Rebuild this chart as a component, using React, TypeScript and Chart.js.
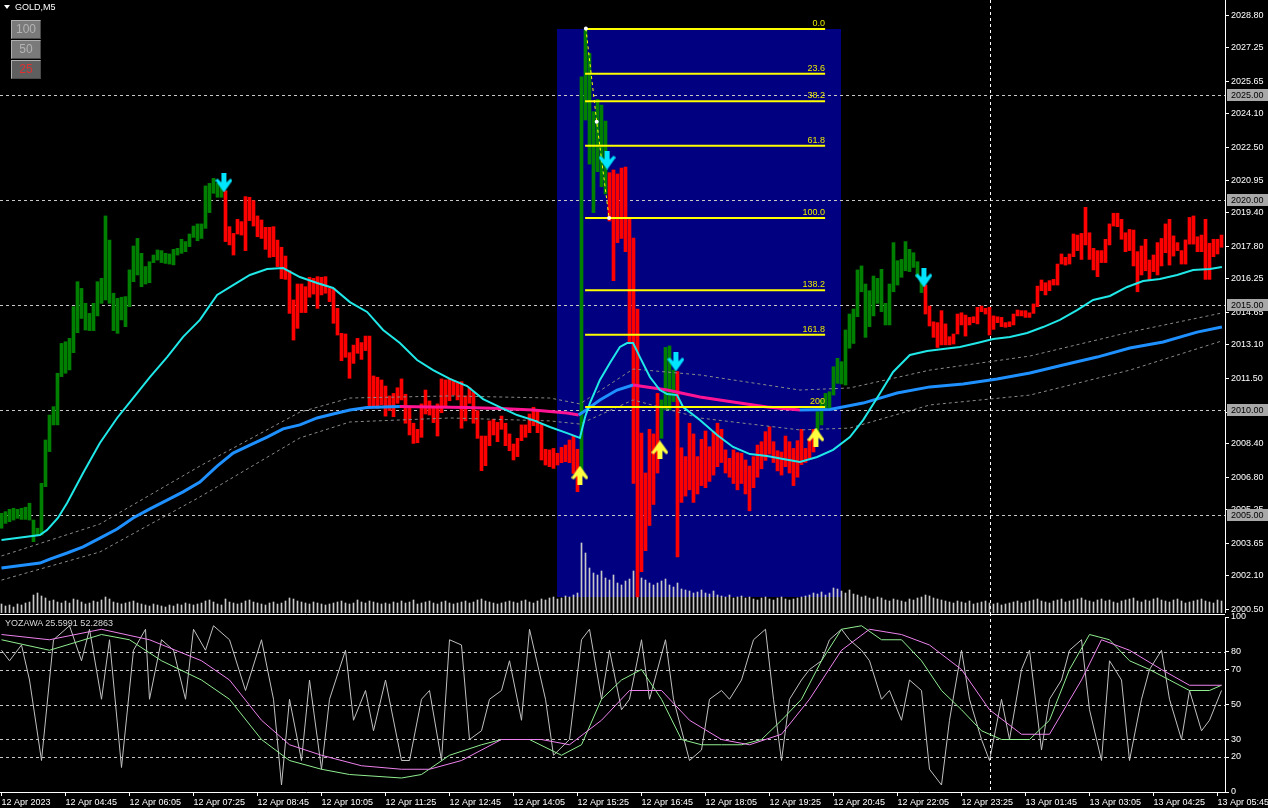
import React, { useEffect, useRef } from 'react';
import { Chart, registerables } from 'chart.js';

Chart.register(...registerables);

// ---------- DATA ----------
const TIME_LABELS = ['12 Apr 2023', '12 Apr 04:45', '12 Apr 06:05', '12 Apr 07:25', '12 Apr 08:45', '12 Apr 10:05', '12 Apr 11:25', '12 Apr 12:45', '12 Apr 14:05', '12 Apr 15:25', '12 Apr 16:45', '12 Apr 18:05', '12 Apr 19:25', '12 Apr 20:45', '12 Apr 22:05', '12 Apr 23:25', '13 Apr 01:45', '13 Apr 03:05', '13 Apr 04:25', '13 Apr 05:45'];
const TIME_TICK_BARS = [0, 16, 32, 48, 64, 80, 96, 112, 128, 144, 160, 176, 192, 208, 224, 240, 256, 272, 288, 304];

const BAR_HIGH = [
  2005.08, 2005.16, 2005.27, 2005.32, 2005.27, 2005.32, 2005.37, 2005.56, 2004.76, 2004.37,
  2006.51, 2008.57, 2009.76, 2010.16, 2011.75, 2013.17, 2013.25, 2013.41, 2014.92, 2016.11,
  2015.79, 2015.08, 2014.60, 2015.08, 2016.11, 2016.27, 2019.24, 2018.09, 2015.56, 2015.32,
  2015.37, 2015.40, 2016.67, 2017.81, 2018.17, 2017.46, 2016.83, 2017.06, 2017.38, 2017.62,
  2017.59, 2017.46, 2017.43, 2017.65, 2017.70, 2018.13, 2018.02, 2018.38, 2018.76, 2018.86,
  2018.86, 2020.67, 2020.79, 2021.03, 2020.79, 2020.63, 2020.44, 2018.73, 2018.41, 2019.08,
  2018.97, 2020.16, 2020.13, 2019.97, 2019.24, 2019.05, 2018.70, 2018.70, 2018.73, 2018.09,
  2017.75, 2017.33, 2016.63, 2015.24, 2016.00, 2016.00, 2015.87, 2016.32, 2016.27, 2016.35,
  2016.32, 2016.35, 2015.79, 2015.79, 2014.84, 2013.65, 2013.62, 2012.73, 2013.09, 2013.41,
  2013.21, 2013.52, 2013.52, 2011.62, 2011.56, 2011.43, 2011.14, 2010.67, 2010.79, 2011.06,
  2011.48, 2010.75, 2010.16, 2009.37, 2009.08, 2010.29, 2010.95, 2010.43, 2010.16, 2010.29,
  2011.48, 2011.43, 2011.51, 2011.40, 2011.30, 2011.35, 2010.67, 2011.06, 2010.87, 2009.97,
  2008.76, 2008.76, 2009.48, 2009.56, 2009.41, 2009.71, 2009.37, 2008.86, 2008.38, 2008.65,
  2009.29, 2009.29, 2009.81, 2010.13, 2009.92, 2009.33, 2008.13, 2008.10, 2008.17, 2007.94,
  2008.22, 2008.33, 2008.57, 2008.76, 2008.13, 2025.87, 2028.10, 2026.98, 2024.21, 2024.79,
  2024.52, 2023.76, 2021.30, 2021.43, 2021.24, 2021.52, 2021.57, 2019.08, 2018.19, 2014.80,
  2008.90, 2007.00, 2009.08, 2008.86, 2010.79, 2010.48, 2012.98, 2013.05, 2011.90, 2011.83,
  2008.20, 2007.78, 2009.37, 2008.86, 2007.78, 2008.60, 2009.00, 2008.25, 2008.97, 2009.37,
  2009.08, 2008.10, 2007.70, 2008.10, 2007.97, 2007.94, 2007.62, 2007.33, 2007.78, 2008.33,
  2008.49, 2008.97, 2009.20, 2008.49, 2008.06, 2008.00, 2008.76, 2008.49, 2008.17, 2008.54,
  2009.08, 2008.17, 2008.60, 2009.08, 2009.92, 2010.48, 2010.79, 2010.87, 2012.06, 2012.46,
  2012.30, 2013.81, 2014.57, 2014.81, 2016.67, 2016.86, 2016.00, 2015.68, 2016.38, 2016.27,
  2016.70, 2015.08, 2016.00, 2017.97, 2017.11, 2017.17, 2018.02, 2017.65, 2017.49, 2017.06,
  2016.35, 2015.95, 2014.95, 2014.20, 2014.16, 2014.73, 2014.10, 2013.49, 2013.62, 2014.57,
  2014.63, 2014.52, 2014.41, 2014.44, 2014.89, 2014.95, 2014.84, 2014.89, 2014.48, 2014.44,
  2014.41, 2014.16, 2014.20, 2014.57, 2014.76, 2014.73, 2014.73, 2014.63, 2015.05, 2015.90,
  2016.19, 2016.06, 2016.16, 2016.22, 2016.95, 2017.43, 2017.27, 2017.43, 2018.38, 2018.33,
  2018.41, 2019.65, 2018.44, 2017.70, 2017.59, 2017.59, 2018.13, 2018.86, 2019.37, 2019.37,
  2019.08, 2018.44, 2018.60, 2018.57, 2017.54, 2017.81, 2018.13, 2017.14, 2017.38, 2017.97,
  2018.17, 2018.86, 2019.08, 2018.29, 2017.97, 2017.59, 2018.10, 2019.17, 2019.24, 2018.25,
  2018.33, 2019.08, 2017.94, 2018.13, 2018.13, 2018.33
];
const BAR_LOW = [
  2004.37, 2004.60, 2004.68, 2004.76, 2004.84, 2004.79, 2004.79, 2004.76, 2003.73, 2004.05,
  2004.05, 2006.35, 2008.02, 2009.29, 2009.29, 2011.59, 2011.75, 2011.91, 2012.73, 2013.68,
  2014.36, 2013.81, 2013.78, 2013.78, 2014.48, 2015.08, 2015.24, 2015.08, 2013.78, 2013.65,
  2014.29, 2013.97, 2014.92, 2016.11, 2016.43, 2015.87, 2016.00, 2016.06, 2017.02, 2017.14,
  2017.02, 2016.98, 2016.95, 2016.91, 2017.38, 2017.46, 2017.54, 2017.78, 2018.22, 2018.06,
  2018.17, 2018.65, 2019.40, 2020.32, 2020.13, 2020.13, 2018.02, 2017.86, 2017.38, 2018.38,
  2018.33, 2017.59, 2019.02, 2018.76, 2018.25, 2018.17, 2017.65, 2017.27, 2017.30, 2016.83,
  2016.25, 2016.22, 2014.60, 2013.33, 2013.89, 2014.64, 2014.64, 2015.37, 2015.52, 2014.84,
  2015.48, 2015.56, 2015.16, 2014.13, 2013.57, 2012.35, 2012.51, 2011.51, 2012.22, 2012.70,
  2012.41, 2012.83, 2010.16, 2010.16, 2010.08, 2010.24, 2009.71, 2009.97, 2009.68, 2010.32,
  2010.48, 2009.37, 2008.81, 2008.41, 2008.44, 2008.70, 2009.81, 2009.76, 2009.40, 2008.76,
  2009.87, 2010.16, 2010.44, 2010.71, 2010.48, 2009.13, 2009.48, 2010.32, 2009.37, 2008.65,
  2007.11, 2007.35, 2008.30, 2008.81, 2008.49, 2009.08, 2008.30, 2008.06, 2007.62, 2007.78,
  2008.54, 2008.70, 2008.92, 2009.25, 2008.92, 2007.62, 2007.38, 2007.30, 2007.22, 2007.38,
  2007.49, 2007.54, 2007.49, 2006.98, 2006.11, 2006.90, 2023.81, 2021.71, 2019.40, 2021.35,
  2020.63, 2020.29, 2019.00, 2016.16, 2017.97, 2018.17, 2017.54, 2013.25, 2006.50, 2001.10,
  2002.30, 2003.30, 2004.50, 2005.50, 2007.00, 2008.65, 2010.00, 2010.00, 2010.40, 2003.00,
  2005.60, 2005.90, 2006.20, 2005.60, 2006.00, 2006.40, 2006.30, 2006.60, 2006.90, 2007.30,
  2007.50, 2007.00, 2006.80, 2006.50, 2006.20, 2006.50, 2006.00, 2005.20, 2006.30, 2006.80,
  2007.20, 2007.60, 2007.90, 2007.50, 2007.10, 2006.90, 2007.30, 2007.00, 2006.40, 2006.80,
  2007.40, 2007.50, 2007.70, 2008.00, 2008.73, 2009.29, 2010.00, 2010.08, 2010.71, 2011.27,
  2011.24, 2011.19, 2012.94, 2013.17, 2014.44, 2015.63, 2013.46, 2013.97, 2014.48, 2015.08,
  2014.68, 2014.05, 2014.05, 2015.63, 2015.95, 2016.32, 2016.63, 2016.59, 2016.79, 2016.32,
  2015.59, 2014.57, 2014.00, 2013.46, 2012.98, 2013.10, 2013.10, 2013.10, 2013.14, 2013.62,
  2014.05, 2013.52, 2014.05, 2014.16, 2014.10, 2014.68, 2014.57, 2013.57, 2013.84, 2014.16,
  2013.97, 2013.94, 2013.97, 2014.05, 2014.48, 2014.48, 2014.41, 2014.41, 2014.60, 2014.92,
  2015.68, 2015.48, 2015.68, 2015.95, 2015.95, 2016.95, 2016.90, 2016.95, 2017.30, 2017.59,
  2017.17, 2017.86, 2017.17, 2016.67, 2016.35, 2017.02, 2017.02, 2017.86, 2018.76, 2018.73,
  2018.13, 2017.54, 2017.59, 2016.86, 2015.63, 2016.43, 2016.63, 2016.16, 2016.59, 2016.43,
  2016.86, 2017.49, 2016.90, 2017.33, 2017.59, 2016.95, 2016.95, 2017.90, 2017.90, 2017.54,
  2017.54, 2016.22, 2016.22, 2017.30, 2017.43, 2017.75
];
// [firstBar, lastBar, trend]
const TREND_SEGMENTS = [
  [0, 55, 'up'], [56, 144, 'down'], [145, 151, 'up'], [152, 164, 'down'],
  [165, 168, 'up'], [169, 203, 'down'], [204, 230, 'up'], [231, 305, 'down']
];
const VOLUMES = [
  90, 70, 80, 60, 90, 80, 100, 110, 180, 200, 170, 150, 120, 130, 110, 100,
  120, 100, 140, 130, 110, 90, 100, 120, 110, 130, 160, 140, 110, 100, 90, 100,
  110, 120, 100, 90, 80, 70, 90, 80, 70, 60, 80, 70, 90, 80, 100, 90,
  80, 90, 100, 120, 130, 110, 90, 80, 140, 110, 100, 90, 100, 120, 130, 110,
  100, 90, 80, 100, 110, 90, 100, 120, 150, 140, 120, 110, 100, 90, 110, 100,
  90, 80, 90, 100, 110, 120, 100, 90, 100, 130, 110, 100, 120, 110, 100, 90,
  100, 90, 110, 100, 120, 100, 110, 130, 90, 100, 110, 120, 100, 90, 110, 120,
  100, 90, 100, 110, 120, 100, 110, 130, 140, 120, 110, 100, 90, 100, 110, 120,
  110, 100, 120, 130, 110, 100, 120, 140, 130, 150, 160, 140, 150, 170, 160, 180,
  200, 700, 600, 450, 400, 380, 420, 350, 330, 380, 300, 280, 320, 340, 420, 380,
  350, 330, 300, 280, 300, 320, 340, 280, 260, 300, 240, 230, 220, 200, 210, 230,
  200, 190, 220, 180, 170, 160, 180, 150, 160, 170, 150, 160, 140, 130, 150, 160,
  140, 130, 150, 160, 140, 130, 140, 150, 160, 170, 180, 200, 190, 210, 180, 200,
  250, 240, 220, 200, 230, 190, 180, 160, 170, 150, 140, 160, 150, 130, 120, 140,
  130, 120, 110, 140, 130, 150, 160, 180, 170, 150, 140, 130, 120, 110, 100, 120,
  110, 100, 120, 90, 100, 110, 120, 100, 90, 100, 80, 90, 100, 110, 120, 100,
  110, 120, 130, 140, 120, 110, 100, 120, 130, 140, 110, 120, 130, 140, 150, 130,
  120, 110, 130, 140, 120, 130, 110, 100, 120, 130, 140, 150, 120, 110, 130, 120,
  140, 150, 130, 120, 110, 130, 140, 120, 100, 110, 120, 130, 140, 120, 110, 100,
  130, 120
];

const CYAN_MA_BARS = [0, 9.6, 11.4, 14.1, 16.4, 20.4, 24.6, 28.9, 32.9, 37.1, 41.4, 45.4, 49.6, 53.9, 57.9, 62.1, 66.4, 70.4, 74.6, 78.9, 82.9, 87.1, 91.4, 95.4, 99.6, 103.9, 107.9, 112.1, 116.4, 120.4, 124.6, 128.9, 132.9, 137.1, 141.4, 144.6, 145.9, 147.1, 149.6, 152.1, 154.6, 156.4, 157.9, 159.6, 162.1, 164.6, 166.4, 168.9, 170.4, 174.6, 178.9, 182.9, 187.1, 191.4, 195.4, 199.6, 203.9, 207.9, 212.1, 215.4, 218.9, 222.9, 227.1, 231.4, 235.4, 239.6, 243.9, 247.9, 252.1, 256.4, 260.4, 264.6, 268.9, 272.9, 277.1, 281.4, 285.4, 289.6, 293.9, 297.9, 302.1, 305.1];
const CYAN_MA = [2003.81, 2004.05, 2004.29, 2004.86, 2005.57, 2007.0, 2008.43, 2009.62, 2010.57, 2011.57, 2012.52, 2013.48, 2014.29, 2015.48, 2015.95, 2016.43, 2016.71, 2016.76, 2016.33, 2016.05, 2015.81, 2015.14, 2014.67, 2013.81, 2013.19, 2012.38, 2011.90, 2011.48, 2011.14, 2010.52, 2010.14, 2009.76, 2009.52, 2009.19, 2008.90, 2008.67, 2009.67, 2010.33, 2011.43, 2012.24, 2013.0, 2013.19, 2013.19, 2012.52, 2011.57, 2010.95, 2010.76, 2010.71, 2010.14, 2009.52, 2008.81, 2008.24, 2007.90, 2007.81, 2007.67, 2007.52, 2007.76, 2008.10, 2008.71, 2009.52, 2010.57, 2011.81, 2012.62, 2012.81, 2012.90, 2013.0, 2013.19, 2013.38, 2013.48, 2013.67, 2013.95, 2014.29, 2014.76, 2015.24, 2015.43, 2015.86, 2016.14, 2016.24, 2016.43, 2016.67, 2016.71, 2016.81];

const SLOW_MA_BARS = [0, 9.6, 12.1, 16.4, 20.4, 24.6, 28.9, 32.9, 37.1, 41.4, 45.4, 49.6, 53.9, 57.9, 62.1, 66.4, 70.4, 74.6, 78.9, 82.9, 87.1, 91.4, 99.6, 107.9, 116.4, 124.6, 132.9, 141.4, 144.3, 145.4, 149.6, 153.9, 157.9, 159.6, 166.4, 174.6, 182.9, 191.4, 199.6, 207.1, 215.4, 223.9, 232.1, 240.4, 248.9, 257.1, 265.4, 273.9, 282.1, 290.4, 298.9, 305.1];
const SLOW_MA = [2002.48, 2002.71, 2002.90, 2003.19, 2003.48, 2003.90, 2004.33, 2004.86, 2005.29, 2005.71, 2006.10, 2006.57, 2007.33, 2007.95, 2008.33, 2008.71, 2009.10, 2009.29, 2009.62, 2009.81, 2010.0, 2010.12, 2010.17, 2010.14, 2010.12, 2010.07, 2010.0, 2009.86, 2009.76, 2009.90, 2010.48, 2010.95, 2011.19, 2011.14, 2010.95, 2010.62, 2010.38, 2010.14, 2010.0, 2010.02, 2010.33, 2010.81, 2011.10, 2011.24, 2011.48, 2011.76, 2012.14, 2012.52, 2012.95, 2013.24, 2013.71, 2013.95];

const ENV_BARS = [0, 24.6, 49.6, 74.6, 87.1, 112.1, 137.1, 144.6, 157.9, 174.6, 199.6, 212.1, 232.1, 257.1, 282.1, 305.1];
const ENV_UPPER = [2003.05, 2004.57, 2007.33, 2009.90, 2010.57, 2010.67, 2010.57, 2010.29, 2011.95, 2011.67, 2010.95, 2011.05, 2011.90, 2012.57, 2013.71, 2014.62];
const ENV_LOWER = [2001.90, 2003.24, 2005.86, 2008.67, 2009.43, 2009.62, 2009.48, 2009.33, 2010.48, 2009.62, 2009.05, 2009.14, 2010.24, 2010.71, 2011.90, 2013.29];

const FIB_LEVELS = [0, 23.6, 38.2, 61.8, 100, 138.2, 161.8, 200];
const FIB_LABELS = ['0.0', '23.6', '38.2', '61.8', '100.0', '138.2', '161.8', '200'];
const FIB_PRICE_0 = 2028.14;
const FIB_PRICE_100 = 2019.14;
const FIB_FROM_BAR = 145.9;
const FIB_TO_BAR = 205.9;
const FIB_ZONE_FROM_BAR = 138.9;
const FIB_ZONE_TO_BAR = 209.9;
const FIB_ZONE_BOTTOM = 2001.10;
const ZIGZAG_BARS = [146.1, 148.8, 151.9];
const ZIGZAG = [2028.17, 2023.73, 2019.14];

const DOWN_ARROW_BARS = [55.6, 151.4, 168.6, 230.6];
const DOWN_ARROW_PRICES = [2020.81, 2021.90, 2012.29, 2016.29];
const UP_ARROW_BARS = [144.6, 164.6, 203.6];
const UP_ARROW_PRICES = [2006.90, 2008.10, 2008.71];

const PRICE_TICKS = [2028.80, 2027.25, 2025.65, 2024.10, 2022.50, 2020.95, 2019.40, 2017.80, 2016.25, 2014.65, 2013.10, 2011.50, 2009.90, 2008.40, 2006.80, 2005.25, 2003.65, 2002.10, 2000.50];
const PRICE_LEVELS = [2025, 2020, 2015, 2010, 2005];
const PRICE_MIN = 2000.333;
const PRICE_MAX = 2029.524;
const BAR_MIN = -0.375;
const BAR_MAX = 305.875;
const SEPARATOR_BAR = 247;

const OSC_TICKS = [100, 80, 70, 50, 30, 20, 0];
const OSC_LEVELS = [80, 70, 50, 30, 20];
const OSC_FAST_BARS = [0, 2, 5, 7, 10, 13, 17, 20, 22, 25, 27, 30, 33, 36, 37, 40, 43, 46, 48, 51, 53, 57, 61, 65, 68, 70, 72, 75, 77, 80, 82, 86, 88, 91, 93, 96, 100, 102, 105, 107, 110, 112, 115, 117, 120, 122, 125, 127, 130, 132, 136, 138, 142, 145, 147, 150, 152, 155, 157, 160, 162, 166, 168, 172, 175, 177, 180, 182, 185, 188, 191, 193, 195, 197, 200, 202, 205, 207, 210, 212, 215, 217, 220, 222, 225, 227, 230, 232, 235, 237, 240, 242, 245, 247, 250, 252, 255, 257, 260, 262, 265, 267, 270, 272, 275, 277, 280, 282, 285, 287, 290, 292, 295, 297, 300, 302, 305];
const OSC_FAST = [81, 75, 84, 64, 18, 87, 95, 75, 93, 53, 87, 14, 81, 93, 53, 87, 81, 53, 93, 81, 95, 87, 58, 87, 53, 4, 53, 18, 64, 13, 53, 81, 41, 58, 35, 64, 18, 18, 53, 58, 18, 87, 84, 30, 35, 53, 58, 75, 41, 93, 53, 21, 30, 87, 93, 53, 81, 47, 53, 87, 53, 87, 53, 18, 24, 53, 58, 53, 64, 87, 93, 53, 18, 53, 64, 70, 75, 87, 93, 87, 81, 75, 53, 58, 41, 64, 58, 13, 4, 41, 81, 53, 30, 18, 53, 30, 70, 81, 24, 53, 64, 81, 87, 47, 18, 75, 64, 18, 53, 70, 81, 53, 30, 58, 35, 41, 58];
const OSC_SIGNAL_BARS = [0, 12, 25, 32, 40, 50, 57, 65, 72, 80, 87, 100, 105, 112, 120, 125, 132, 140, 145, 150, 155, 160, 165, 170, 175, 180, 185, 190, 195, 200, 205, 210, 215, 220, 225, 230, 235, 240, 245, 250, 257, 262, 267, 272, 277, 282, 287, 292, 297, 302, 305];
const OSC_SIGNAL = [87, 81, 90, 87, 75, 64, 53, 30, 18, 13, 10, 8, 10, 21, 27, 30, 30, 21, 27, 53, 64, 70, 53, 30, 27, 27, 27, 30, 41, 53, 75, 93, 95, 87, 87, 75, 58, 47, 35, 30, 30, 41, 70, 90, 87, 75, 70, 64, 58, 58, 61];
const OSC_SLOW_BARS = [0, 12, 25, 37, 50, 57, 65, 72, 80, 90, 100, 107, 115, 125, 135, 142, 150, 157, 165, 172, 180, 187, 195, 202, 210, 217, 225, 232, 240, 247, 255, 262, 270, 275, 282, 290, 297, 305];
const OSC_SLOW = [90, 87, 93, 87, 75, 64, 41, 27, 21, 15, 13, 13, 18, 30, 30, 27, 41, 58, 58, 41, 30, 27, 33, 53, 81, 93, 90, 84, 70, 47, 33, 33, 64, 87, 81, 70, 61, 61];

// ---------- STYLE ----------
const FONT = '"Liberation Sans", Arial, sans-serif';
const GREEN = '#008000';
const RED = '#ff0000';
const CYAN = '#20e8e8';
const BLUE = '#1e90ff';
const PINK = '#ff1493';
const YELLOW = '#ffff00';

const trendColor = (i: number) => {
  for (const s of TREND_SEGMENTS) if (i >= (s[0] as number) && i <= (s[1] as number)) return s[2] === 'up' ? GREEN : RED;
  return RED;
};
const pts = (xs: number[], ys: number[]) => xs.map((x, k) => ({ x, y: ys[k] }));

function arrowImage(color: string, up: boolean) {
  const c = document.createElement('canvas');
  c.width = 17; c.height = 19;
  const g = c.getContext('2d')!;
  const shape = [[6, 0], [11, 0], [11, 9], [15, 5], [17, 7], [8.5, 19], [0, 7], [2, 5], [6, 9]];
  g.fillStyle = color;
  g.beginPath();
  shape.forEach(([px, py], k) => {
    const yy = up ? 19 - py : py;
    if (k) g.lineTo(px, yy); else g.moveTo(px, yy);
  });
  g.closePath();
  g.fill();
  return c;
}

const hline = (ctx: CanvasRenderingContext2D, x0: number, x1: number, y: number) => {
  const py = Math.round(y) + 0.5;
  ctx.beginPath(); ctx.moveTo(x0, py); ctx.lineTo(x1, py); ctx.stroke();
};

const upperDeco = {
  id: 'upperDeco',
  beforeDatasetsDraw(chart: any) {
    const { ctx, chartArea: a, scales } = chart;
    const x = scales.x, y = scales.y;
    ctx.save();
    ctx.fillStyle = '#000080';
    const l = x.getPixelForValue(FIB_ZONE_FROM_BAR), r = x.getPixelForValue(FIB_ZONE_TO_BAR);
    const t = y.getPixelForValue(FIB_PRICE_0), b = y.getPixelForValue(FIB_ZONE_BOTTOM);
    ctx.fillRect(Math.round(l), Math.round(t), Math.round(r - l), Math.round(b - t));
    ctx.strokeStyle = '#c8c8c8';
    ctx.lineWidth = 1;
    ctx.setLineDash([3, 3]);
    PRICE_LEVELS.forEach(v => hline(ctx, a.left, a.right, y.getPixelForValue(v)));
    ctx.strokeStyle = '#ffffff';
    const sx = Math.round(x.getPixelForValue(SEPARATOR_BAR)) + 0.5;
    ctx.beginPath(); ctx.moveTo(sx, a.top); ctx.lineTo(sx, a.bottom); ctx.stroke();
    ctx.restore();
  },
  afterDraw(chart: any) {
    const { ctx, chartArea: a, scales } = chart;
    const x = scales.x, y = scales.y;
    ctx.save();
    ctx.font = `9px ${FONT}`;
    ctx.fillStyle = '#e8e800';
    ctx.textAlign = 'right';
    ctx.textBaseline = 'alphabetic';
    const rx = x.getPixelForValue(FIB_TO_BAR);
    FIB_LEVELS.forEach((lv, k) => {
      const p = FIB_PRICE_0 - (FIB_PRICE_0 - FIB_PRICE_100) * lv / 100;
      ctx.fillText(FIB_LABELS[k], rx, y.getPixelForValue(p) - 3);
    });
    ctx.textAlign = 'left';
    ctx.textBaseline = 'middle';
    PRICE_LEVELS.forEach(v => {
      const py = Math.round(y.getPixelForValue(v));
      ctx.fillStyle = '#a8a8a8';
      ctx.fillRect(a.right + 2, py - 6, 41, 12);
      ctx.fillStyle = '#000000';
      ctx.fillText(v.toFixed(2), a.right + 6, py + 0.5);
    });
    ctx.restore();
  }
};

const lowerDeco = {
  id: 'lowerDeco',
  beforeDatasetsDraw(chart: any) {
    const { ctx, chartArea: a, scales } = chart;
    const x = scales.x, y = scales.y;
    ctx.save();
    ctx.strokeStyle = '#c8c8c8';
    ctx.lineWidth = 1;
    ctx.setLineDash([3, 3]);
    OSC_LEVELS.forEach(v => hline(ctx, a.left, a.right, y.getPixelForValue(v)));
    ctx.strokeStyle = '#ffffff';
    const sx = Math.round(x.getPixelForValue(SEPARATOR_BAR)) + 0.5;
    ctx.beginPath(); ctx.moveTo(sx, 0); ctx.lineTo(sx, a.bottom); ctx.stroke();
    ctx.setLineDash([]);
    hline(ctx, 0, a.right, 1);
    ctx.restore();
  }
};

export default function App() {
  const upperRef = useRef<HTMLCanvasElement>(null);
  const lowerRef = useRef<HTMLCanvasElement>(null);

  useEffect(() => {
    document.body.style.margin = '0';
    document.body.style.background = '#000';
    const downImg = arrowImage('#00e5ff', false);
    const upImg = arrowImage('#ffff40', true);

    const fibDatasets = FIB_LEVELS.map(lv => {
      const p = FIB_PRICE_0 - (FIB_PRICE_0 - FIB_PRICE_100) * lv / 100;
      return {
        type: 'line', data: [{ x: FIB_FROM_BAR, y: p }, { x: FIB_TO_BAR, y: p }],
        borderColor: YELLOW, borderWidth: 2, pointRadius: 0, order: 3, yAxisID: 'y'
      };
    });

    const upper = new Chart(upperRef.current!, {
      type: 'bar',
      data: {
        datasets: [
          {
            type: 'bar', yAxisID: 'yv', data: VOLUMES.map((v, i) => ({ x: i, y: v })),
            backgroundColor: '#c8c8c8', barThickness: 1, grouped: false, order: 20
          },
          {
            type: 'bar', yAxisID: 'y', data: BAR_HIGH.map((h, i) => ({ x: i, y: [BAR_LOW[i], h] })),
            backgroundColor: BAR_HIGH.map((_, i) => trendColor(i)), barThickness: 3, grouped: false, order: 10
          },
          {
            type: 'line', yAxisID: 'y', data: pts(ENV_BARS, ENV_UPPER), borderColor: '#8a8a8a', borderWidth: 1,
            borderDash: [3, 3], pointRadius: 0, order: 9
          },
          {
            type: 'line', yAxisID: 'y', data: pts(ENV_BARS, ENV_LOWER), borderColor: '#8a8a8a', borderWidth: 1,
            borderDash: [3, 3], pointRadius: 0, order: 9
          },
          {
            type: 'line', yAxisID: 'y', data: pts(SLOW_MA_BARS, SLOW_MA), borderColor: BLUE, borderWidth: 3,
            pointRadius: 0, order: 6,
            segment: { borderColor: (c: any) => (c.p1.parsed.y >= c.p0.parsed.y ? BLUE : PINK) }
          },
          {
            type: 'line', yAxisID: 'y', data: pts(CYAN_MA_BARS, CYAN_MA), borderColor: CYAN, borderWidth: 2,
            pointRadius: 0, order: 5
          },
          ...fibDatasets,
          {
            type: 'line', yAxisID: 'y', data: pts(ZIGZAG_BARS, ZIGZAG), borderColor: YELLOW, borderWidth: 1,
            borderDash: [3, 3], pointRadius: 2, pointBackgroundColor: '#ffffff', pointBorderWidth: 0, order: 2
          },
          {
            type: 'line', yAxisID: 'y', data: pts(DOWN_ARROW_BARS, DOWN_ARROW_PRICES), showLine: false,
            pointStyle: downImg, pointRadius: 8, order: 1
          },
          {
            type: 'line', yAxisID: 'y', data: pts(UP_ARROW_BARS, UP_ARROW_PRICES), showLine: false,
            pointStyle: upImg, pointRadius: 8, order: 1
          }
        ]
      } as any,
      options: {
        responsive: false, animation: false, devicePixelRatio: 1, events: [],
        layout: { padding: 0, autoPadding: false },
        plugins: { legend: { display: false }, tooltip: { enabled: false } },
        scales: {
          x: { type: 'linear', min: BAR_MIN, max: BAR_MAX, offset: false, display: false },
          yv: { type: 'linear', min: 0, max: 6130, display: false },
          y: {
            type: 'linear', position: 'right', min: PRICE_MIN, max: PRICE_MAX,
            afterBuildTicks: (s: any) => { s.ticks = PRICE_TICKS.map(v => ({ value: v })); },
            afterFit: (s: any) => { s.width = 43; s.paddingTop = 0; s.paddingBottom = 0; },
            ticks: {
              color: '#ffffff', font: { family: FONT, size: 9 }, padding: 2,
              callback: (v: any) => Number(v).toFixed(2)
            },
            grid: { drawOnChartArea: false, drawTicks: true, tickLength: 4, color: '#ffffff' },
            border: { display: true, color: '#ffffff', width: 1 }
          }
        }
      } as any,
      plugins: [upperDeco]
    });

    const lower = new Chart(lowerRef.current!, {
      type: 'line',
      data: {
        datasets: [
          { data: pts(OSC_FAST_BARS, OSC_FAST), borderColor: '#c0c0c0', borderWidth: 1, pointRadius: 0, order: 3 },
          { data: pts(OSC_SIGNAL_BARS, OSC_SIGNAL), borderColor: '#90ee90', borderWidth: 1, pointRadius: 0, order: 2 },
          { data: pts(OSC_SLOW_BARS, OSC_SLOW), borderColor: '#ee82ee', borderWidth: 1, pointRadius: 0, order: 1 }
        ]
      } as any,
      options: {
        responsive: false, animation: false, devicePixelRatio: 1, events: [],
        layout: { padding: { top: 4, left: 0, right: 0, bottom: 0 }, autoPadding: false },
        plugins: { legend: { display: false }, tooltip: { enabled: false } },
        scales: {
          x: {
            type: 'linear', min: BAR_MIN, max: BAR_MAX, offset: false,
            afterBuildTicks: (s: any) => { s.ticks = TIME_TICK_BARS.map(v => ({ value: v })); },
            afterFit: (s: any) => { s.height = 16; s.paddingLeft = 0; s.paddingRight = 0; },
            ticks: {
              color: '#ffffff', font: { family: FONT, size: 9 }, padding: 1, autoSkip: false,
              maxRotation: 0, minRotation: 0, align: 'start',
              callback: (_v: any, idx: number) => TIME_LABELS[idx]
            },
            grid: { drawOnChartArea: false, drawTicks: true, tickLength: 4, color: '#ffffff' },
            border: { display: true, color: '#ffffff', width: 1 }
          },
          y: {
            type: 'linear', position: 'right', min: 0, max: 100,
            afterBuildTicks: (s: any) => { s.ticks = OSC_TICKS.map(v => ({ value: v })); },
            afterFit: (s: any) => { s.width = 43; s.paddingTop = 0; s.paddingBottom = 0; },
            ticks: { color: '#ffffff', font: { family: FONT, size: 9 }, padding: 2 },
            grid: { drawOnChartArea: false, drawTicks: true, tickLength: 4, color: '#ffffff' },
            border: { display: true, color: '#ffffff', width: 1 }
          }
        }
      } as any,
      plugins: [lowerDeco]
    });

    return () => { upper.destroy(); lower.destroy(); };
  }, []);

  const btn = (top: number, label: string, color: string, bg: string) => (
    <div style={{
      position: 'absolute', left: 11, top, width: 28, height: 17, background: bg,
      borderStyle: 'solid', borderWidth: 1, borderColor: '#b0b0b0 #4a4a4a #4a4a4a #b0b0b0',
      color, fontSize: 12, lineHeight: '17px', textAlign: 'center', fontFamily: FONT
    }}>{label}</div>
  );

  return (
    <div style={{ position: 'fixed', left: 0, top: 0, width: 1268, height: 808, background: '#000', overflow: 'hidden', fontFamily: FONT }}>
      <canvas ref={upperRef} width={1268} height={613} style={{ position: 'absolute', left: 0, top: 0 }} />
      <canvas ref={lowerRef} width={1268} height={195} style={{ position: 'absolute', left: 0, top: 613 }} />
      <div style={{ position: 'absolute', left: 4, top: 5, width: 0, height: 0, borderLeft: '3px solid transparent', borderRight: '3px solid transparent', borderTop: '4px solid #fff' }} />
      <div style={{ position: 'absolute', left: 15, top: 1, color: '#fff', fontSize: 9, lineHeight: '12px' }}>GOLD,M5</div>
      {btn(20, '100', '#b4b4b4', '#7a7a7a')}
      {btn(40, '50', '#b4b4b4', '#7a7a7a')}
      {btn(60, '25', '#e03030', '#5f5f5f')}
      <div style={{ position: 'absolute', left: 5, top: 617, color: '#d8d8d8', fontSize: 9, lineHeight: '12px' }}>YOZAWA 25.5991 52.2863</div>
    </div>
  );
}
